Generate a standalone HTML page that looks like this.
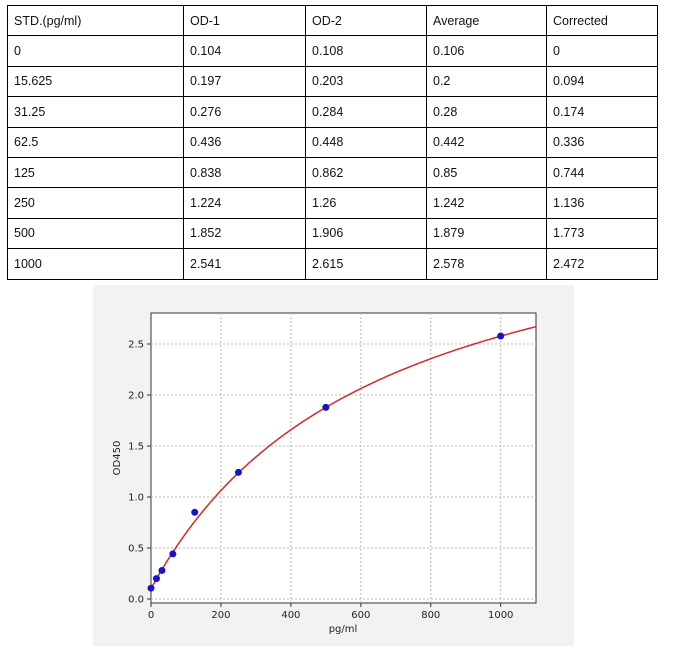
<!DOCTYPE html>
<html><head><meta charset="utf-8"><style>
body{margin:0;background:#fff;width:694px;height:654px;position:relative;overflow:hidden;font-family:"Liberation Sans",sans-serif}
table{position:absolute;left:7px;top:5px;width:651px;border-collapse:collapse;font-size:12.5px;color:#111}
td{border:1px solid #000;height:30.4px;padding:0 0 0 6px;box-sizing:border-box}
svg{position:absolute;left:0;top:0}
</style></head><body>
<table>
<colgroup><col style="width:176px"><col style="width:122px"><col style="width:121px"><col style="width:120px"><col></colgroup>
<tr><td>STD.(pg/ml)</td><td>OD-1</td><td>OD-2</td><td>Average</td><td>Corrected</td></tr>
<tr><td>0</td><td>0.104</td><td>0.108</td><td>0.106</td><td>0</td></tr>
<tr><td>15.625</td><td>0.197</td><td>0.203</td><td>0.2</td><td>0.094</td></tr>
<tr><td>31.25</td><td>0.276</td><td>0.284</td><td>0.28</td><td>0.174</td></tr>
<tr><td>62.5</td><td>0.436</td><td>0.448</td><td>0.442</td><td>0.336</td></tr>
<tr><td>125</td><td>0.838</td><td>0.862</td><td>0.85</td><td>0.744</td></tr>
<tr><td>250</td><td>1.224</td><td>1.26</td><td>1.242</td><td>1.136</td></tr>
<tr><td>500</td><td>1.852</td><td>1.906</td><td>1.879</td><td>1.773</td></tr>
<tr><td>1000</td><td>2.541</td><td>2.615</td><td>2.578</td><td>2.472</td></tr>
</table>
<svg width="694" height="654" id="s" font-family="DejaVu Sans,sans-serif" font-size="10" fill="#222">
<rect x="93" y="285" width="481" height="361" fill="#f2f2f2"/>
<rect x="151" y="313" width="385" height="290" fill="#fff" stroke="#333" stroke-width="1"/>
<g id="g"></g>
<text x="343" y="632" text-anchor="middle">pg/ml</text>
<text transform="translate(120,458) rotate(-90)" text-anchor="middle">OD450</text>
</svg>
<script>
var g=document.getElementById('g'),h='';
function X(v){return 151+v*0.3497}function Y(v){return 599-v*102}
[0,200,400,600,800,1000].forEach(function(v){var x=X(v);
if(v>0)h+='<line x1="'+x+'" y1="313" x2="'+x+'" y2="603" stroke="#bbb" stroke-dasharray="2,2"/>';
h+='<line x1="'+x+'" y1="603" x2="'+x+'" y2="607" stroke="#333"/><text x="'+x+'" y="618" text-anchor="middle">'+v+'</text>';});
[0,0.5,1,1.5,2,2.5].forEach(function(v){var y=Y(v);
h+='<line x1="151" y1="'+y+'" x2="536" y2="'+y+'" stroke="#bbb" stroke-dasharray="2,2"/>';
h+='<line x1="147" y1="'+y+'" x2="151" y2="'+y+'" stroke="#333"/><text x="144" y="'+(y+3.5)+'" text-anchor="end">'+v.toFixed(1)+'</text>';});
var p='';for(var i=0;i<=220;i++){var x=i*5,y=0.1+4.08*x/(647+x);p+=(i?'L':'M')+X(x).toFixed(1)+' '+Y(y).toFixed(1);}
h+='<path d="'+p+'" fill="none" stroke="#d62728" stroke-width="1.5"/>';
[[0,0.106],[15.625,0.2],[31.25,0.28],[62.5,0.442],[125,0.85],[250,1.242],[500,1.879],[1000,2.578]].forEach(function(d){
h+='<circle cx="'+X(d[0])+'" cy="'+Y(d[1])+'" r="3.5" fill="#1a12c8"/>';});
g.innerHTML=h;
</script>
</body></html>
